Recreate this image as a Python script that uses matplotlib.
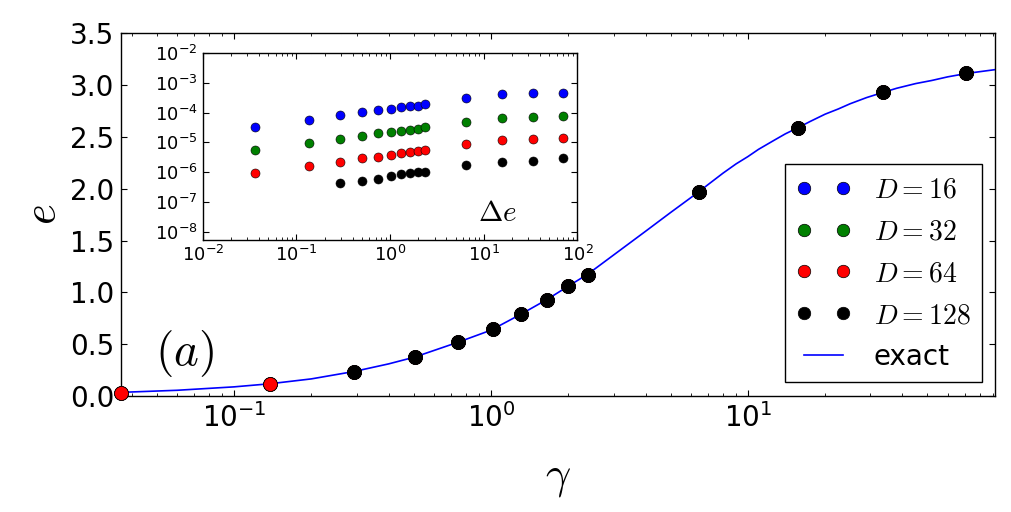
import numpy as np
import matplotlib
matplotlib.use("Agg")
import matplotlib.pyplot as plt

plt.rcParams.update({
    "font.family": "DejaVu Sans",
    "mathtext.fontset": "cm",
    "axes.unicode_minus": False,
    "xtick.direction": "in",
    "ytick.direction": "in",
    "xtick.top": True,
    "ytick.right": True,
    "xtick.major.size": 4,
    "ytick.major.size": 4,
    "xtick.minor.size": 2,
    "ytick.minor.size": 2,
    "axes.linewidth": 1.0,
})

# ── data ──
gamma = [0.0363, 0.138, 0.294, 0.504, 0.747, 1.02, 1.31, 1.65, 2.0, 2.38,
         6.44, 15.7, 33.6, 70.8]
e_pts = [0.033, 0.116, 0.235, 0.375, 0.52, 0.645, 0.79, 0.93, 1.06, 1.17,
         1.97, 2.59, 2.93, 3.115]

# exact curve (sampled along the drawn line)
gamma_exact = [0.0363, 0.06, 0.1, 0.138, 0.2, 0.294, 0.4, 0.504, 0.747, 1.0,
               1.31, 1.65, 2.0, 2.38, 3.0, 4.0, 5.0, 6.44, 7.0, 8.0, 9.0,
               10.0, 11.0, 12.7, 14.0, 15.7, 17.5, 20.0, 22.5, 25.0, 29.0,
               33.6, 38.0, 45.0, 52.0, 60.0, 70.8, 80.0, 92.0]
e_exact = [0.035, 0.055, 0.088, 0.118, 0.165, 0.237, 0.31, 0.375, 0.52, 0.635,
           0.79, 0.93, 1.06, 1.175, 1.36, 1.59, 1.77, 1.97, 2.04, 2.15, 2.24,
           2.31, 2.38, 2.47, 2.53, 2.59, 2.65, 2.72, 2.77, 2.82, 2.88,
           2.93, 2.97, 3.015, 3.045, 3.08, 3.112, 3.13, 3.15]

# relative error Δe per bond dimension
de_16 = [3.2e-5, 5.9e-5, 8.1e-5, 1.02e-4, 1.23e-4, 1.38e-4, 1.51e-4, 1.62e-4,
         1.74e-4, 1.91e-4, 3.1e-4, 4.3e-4, 4.6e-4, 4.6e-4]
de_32 = [5.4e-6, 9.8e-6, 1.35e-5, 1.7e-5, 2.0e-5, 2.3e-5, 2.5e-5, 2.7e-5,
         2.9e-5, 3.2e-5, 4.8e-5, 6.6e-5, 7.1e-5, 7.6e-5]
de_64 = [9.1e-7, 1.66e-6, 2.25e-6, 2.9e-6, 3.3e-6, 3.9e-6, 4.4e-6, 4.8e-6,
         5.1e-6, 5.4e-6, 8.6e-6, 1.18e-5, 1.28e-5, 1.38e-5]
# D=128 only from the third gamma on
de_128 = [np.nan, np.nan, 4.4e-7, 5.1e-7, 6.0e-7, 7.2e-7, 8.4e-7, 9.5e-7,
          1.02e-6, 1.02e-6, 1.78e-6, 2.24e-6, 2.4e-6, 2.9e-6]

labels = [r"$D=16$", r"$D=32$", r"$D=64$", r"$D=128$"]
colors = ["#0000ff", "#008000", "#ff0000", "#000000"]
series = [de_16, de_32, de_64, de_128]

fig = plt.figure(figsize=(10.12, 5.12), dpi=100)
ax = fig.add_axes([0.1196, 0.2266, 0.8640, 0.7083])

for lab, col, de in zip(labels, colors, series):
    e_d = [e if not np.isnan(d) else np.nan for e, d in zip(e_pts, de)]
    ax.plot(gamma, e_d, "o", color=col, mec="k", mew=0.5, ms=10,
            label=lab, zorder=3, clip_on=False)
ax.plot(gamma_exact, e_exact, "-", color="#0000ff", lw=1.2, label="exact",
        zorder=2)

ax.set_xscale("log")
ax.set_xlim(gamma[0], 92)
ax.set_ylim(0, 3.5)
ax.set_yticks(np.arange(0, 3.51, 0.5))
ax.tick_params(labelsize=20, pad=5)
ax.set_xlabel(r"$\gamma$", fontsize=32)
ax.set_ylabel(r"$e$", fontsize=32, labelpad=4)
ax.xaxis.set_label_coords(0.5, -0.165)
ax.text(0.073, 0.118, r"$(a)$", fontsize=34, transform=ax.transAxes,
        ha="center", va="center")

leg = ax.legend(loc="lower right", numpoints=2, fontsize=20, fancybox=False,
                framealpha=1, edgecolor="k", handlelength=2.0,
                handletextpad=0.8, borderaxespad=0.5, labelspacing=0.5,
                markerscale=0.9)
leg.get_frame().set_linewidth(1.0)

# ── inset: Δe vs γ ──
ins = fig.add_axes([0.2003, 0.5303, 0.3703, 0.3656])
for col, de in zip(colors, series):
    ins.plot(gamma, de, "o", color=col, mec="k", mew=0.4, ms=6.5)
ins.set_xscale("log")
ins.set_yscale("log")
ins.set_xlim(1e-2, 1e2)
ins.set_ylim(5e-9, 1e-2)
ins.set_yticks([1e-2, 1e-3, 1e-4, 1e-5, 1e-6, 1e-7, 1e-8])
ins.tick_params(labelsize=13)
ins.text(0.786, 0.148, r"$\Delta e$", fontsize=21, transform=ins.transAxes,
         ha="center", va="center")

fig.savefig("out.png", dpi=100)
